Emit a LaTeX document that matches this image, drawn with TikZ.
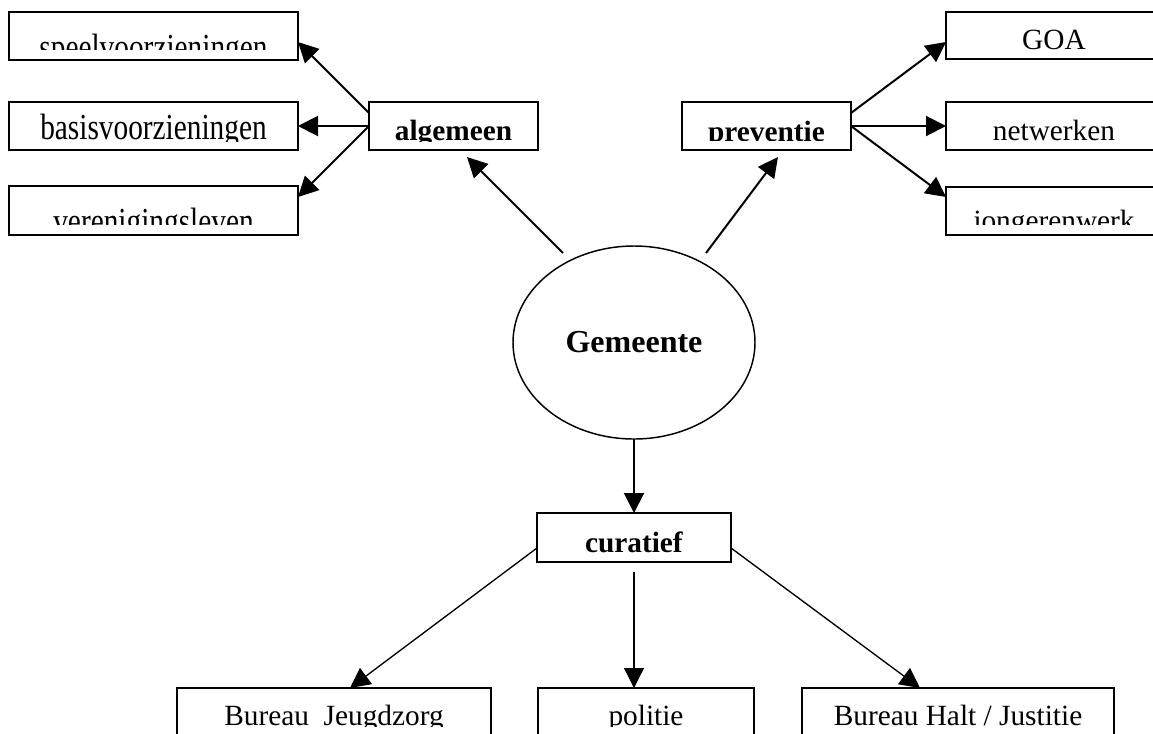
\documentclass[tikz,border=0pt]{standalone}
\usepackage{fontspec}
\setmainfont{Liberation Serif}
\usepackage{graphicx}
\usetikzlibrary{arrows.meta,shapes.geometric}
\tikzset{tekst/.style n args={3}{path picture={
	\clip (path picture bounding box.north west) rectangle ([yshift=#1]path picture bounding box.south east);
	\node[anchor=base, inner sep=0pt, font=\fontsize{22}{26}\selectfont] at ([yshift=-#2]path picture bounding box.north) {#3};}}}
\newcommand{\hoog}[1]{\scalebox{1}[1.25]{#1}}

\begin{document}
\begin{tikzpicture}[x=0.75pt, y=-0.75pt]
	\useasboundingbox (0,0) rectangle (1153,733);
	\tikzstyle{box}=[rectangle, draw=black, line width=1.5pt, inner sep=0pt, outer sep=0pt, minimum height=36pt]
	\tikzstyle{pijl}=[-{Triangle[length=15pt,width=15pt]}]
	\node[box, minimum width=216.75pt, tekst={8.25pt}{35.25pt}{\hoog{speelvoorzieningen}}] 	(speel) at (153.5,36) {};
	\node[box, minimum width=216.75pt, tekst={6.75pt}{27.75pt}{\hoog{basisvoorzieningen}}] 	(basis) at (153.5,126) {};
	\node[box, minimum width=216.75pt, minimum height=36.75pt, tekst={8.25pt}{35.25pt}{\hoog{verenigingsleven}}] (vereniging) at (153.5,210.5) {};
	\node[box, minimum width=126.75pt, tekst={6.75pt}{28.5pt}{\textbf{algemeen}}] 	(algemeen) at (453.5,126) {};
	\node[box, minimum width=126.75pt, tekst={7.5pt}{29.25pt}{\textbf{preventie}}] 	(preventie) at (766.5,126) {};
	\node[box, minimum width=162pt, minimum height=35.25pt, tekst={6.75pt}{27.75pt}{GOA}] (goa) at (1054,35.5) {};
	\node[box, minimum width=162pt, tekst={6.75pt}{28.5pt}{netwerken}] 	(netwerken) at (1054,126) {};
	\node[box, minimum width=162pt, tekst={8.25pt}{32.25pt}{jongerenwerk}] 	(jongeren) at (1054,211) {};
	
	\node[ellipse, draw=black, line width=1.1pt, minimum width=181.5pt, minimum height=144.75pt, inner sep=0pt, outer sep=0pt, font=\fontsize{24}{28}\selectfont\bfseries] (gemeente) at (634,342.5) {Gemeente};
	
	\node[box, minimum width=145.5pt, minimum height=36.75pt, tekst={6.75pt}{29.25pt}{\textbf{curatief}}] (curatief) at (634,537.5) {};
	\node[box, minimum width=235.5pt, minimum height=45pt, tekst={16.5pt}{27.75pt}{Bureau~ Jeugdzorg}] 	(jeugdzorg) at (334,718) {};
	\node[box, minimum width=162pt, minimum height=45pt, tekst={16.5pt}{27.75pt}{politie}] 	(politie) at (646,718) {};
	\node[box, minimum width=234pt, minimum height=45pt, tekst={16.5pt}{27.75pt}{Bureau Halt / Justitie}] (halt) at (958,718) {};
	\begin{scope}[pijl, line width=1.5pt]
		\draw	([shift={(0,-13)}]algemeen.west) -- ([shift={(0,6)}]speel.east);
		\draw	(algemeen.west) -- (basis.east);
		\draw	(algemeen.west) -- ([shift={(0,-13.5)}]vereniging.east);
		\draw	([shift={(0,-13)}]preventie.east) -- ([shift={(0,6.5)}]goa.west);
		\draw	(preventie.east) -- (netwerken.west);
		\draw	(preventie.east) -- ([shift={(0,-14)}]jongeren.west);
		\draw	([shift={(-71,-89.5)}]gemeente.center) -- ([shift={(13.5,7)}]algemeen.south);
		\draw	([shift={(72,-89.5)}]gemeente.center) -- ([shift={(11.5,7)}]preventie.south);
		\draw	(gemeente.south) -- (curatief.north);
	\end{scope}
	\begin{scope}[pijl, line width=1pt]
		\draw	([shift={(0,10.5)}]curatief.west) -- ([shift={(16,0)}]jeugdzorg.north);
		\draw	([shift={(0,10)}]curatief.south) -- ([shift={(-12,0)}]politie.north);
		\draw	([shift={(0,10.5)}]curatief.east) -- ([shift={(-38,0)}]halt.north);
	\end{scope}
\end{tikzpicture}
\end{document}
